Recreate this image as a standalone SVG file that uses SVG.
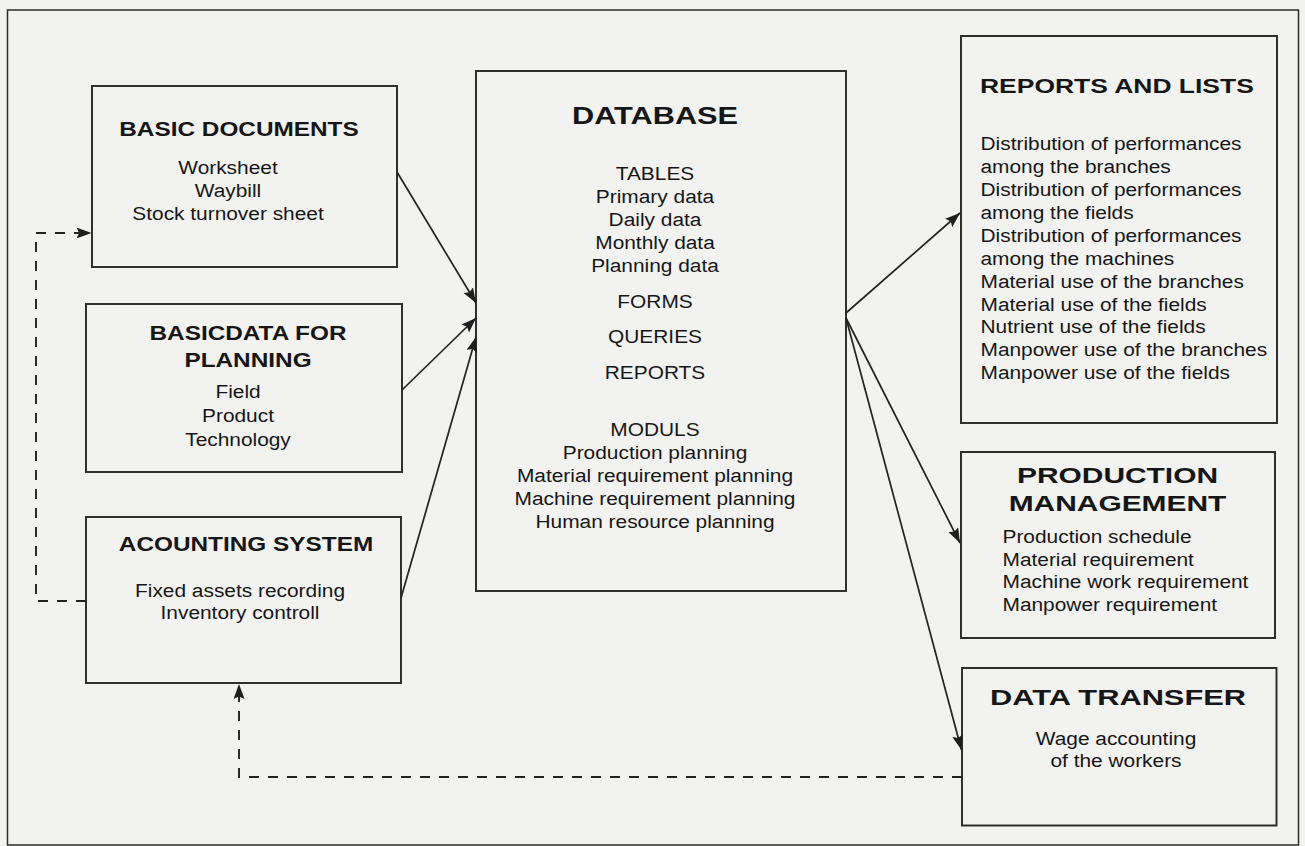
<svg xmlns="http://www.w3.org/2000/svg" width="1305" height="846" viewBox="0 0 1305 846">
  <style>
    .bg { fill: #f2f2f0; }
    .frame { fill: none; stroke: #2b2b2b; stroke-width: 1.5; }
    .box { fill: none; stroke: #262626; stroke-width: 1.9; }
    .t { font-family: "Liberation Sans", Arial, sans-serif; fill: #161616; }
    .h { font-weight: bold; font-size: 21px; }
    .b { font-size: 18px; }
    .c { text-anchor: middle; }
    .s { text-anchor: start; }
    .conn { fill: none; stroke: #222222; stroke-width: 1.7; }
    .dash { stroke-dasharray: 10 9; stroke-width: 1.9; }
  </style>
  <defs>
    <marker id="ah" markerUnits="userSpaceOnUse" markerWidth="16" markerHeight="12" refX="15" refY="5.5" orient="auto">
      <path d="M0,0 L15,5.5 L0,11 L2.5,5.5 z" fill="#1e1e1e"/>
    </marker>
  </defs>
  <rect class="bg" x="0" y="0" width="1305" height="846"/>
  <rect class="frame" x="7.5" y="10" width="1291" height="835"/>

  <g id="basic-documents">
    <rect class="box" x="92" y="86" width="305" height="181"/>
    <g transform="translate(239 0) scale(1.16 1)">
      <text class="t h c" x="0" y="136">BASIC DOCUMENTS</text>
    </g>
    <g transform="translate(228 0) scale(1.16 1)">
      <text class="t b c" x="0" y="174">Worksheet</text>
      <text class="t b c" x="0" y="197">Waybill</text>
      <text class="t b c" x="0" y="220">Stock turnover sheet</text>
    </g>
  </g>

  <g id="basicdata-for-planning">
    <rect class="box" x="86" y="304" width="316" height="168"/>
    <g transform="translate(248 0) scale(1.16 1)">
      <text class="t h c" x="0" y="340">BASICDATA FOR</text>
      <text class="t h c" x="0" y="367">PLANNING</text>
    </g>
    <g transform="translate(238 0) scale(1.16 1)">
      <text class="t b c" x="0" y="398">Field</text>
      <text class="t b c" x="0" y="422">Product</text>
      <text class="t b c" x="0" y="446">Technology</text>
    </g>
  </g>

  <g id="acounting-system">
    <rect class="box" x="86" y="517" width="315" height="166"/>
    <g transform="translate(246 0) scale(1.16 1)">
      <text class="t h c" x="0" y="551">ACOUNTING SYSTEM</text>
    </g>
    <g transform="translate(240 0) scale(1.16 1)">
      <text class="t b c" x="0" y="597">Fixed assets recording</text>
      <text class="t b c" x="0" y="619">Inventory controll</text>
    </g>
  </g>

  <g id="database">
    <rect class="box" x="476" y="71" width="370" height="520"/>
    <g transform="translate(655 0) scale(1.336 1)">
      <text class="t c" style="font-weight:bold;font-size:23px" x="0" y="124">DATABASE</text>
    </g>
    <g transform="translate(655 0) scale(1.16 1)">
      <text class="t b c" x="0" y="180">TABLES</text>
      <text class="t b c" x="0" y="203">Primary data</text>
      <text class="t b c" x="0" y="226">Daily data</text>
      <text class="t b c" x="0" y="249">Monthly data</text>
      <text class="t b c" x="0" y="272">Planning data</text>
      <text class="t b c" x="0" y="308">FORMS</text>
      <text class="t b c" x="0" y="343">QUERIES</text>
      <text class="t b c" x="0" y="379">REPORTS</text>
      <text class="t b c" x="0" y="436">MODULS</text>
      <text class="t b c" x="0" y="459">Production planning</text>
      <text class="t b c" x="0" y="482">Material requirement planning</text>
      <text class="t b c" x="0" y="505">Machine requirement planning</text>
      <text class="t b c" x="0" y="528">Human resource planning</text>
    </g>
  </g>

  <g id="reports-and-lists">
    <rect class="box" x="961" y="36" width="316" height="387"/>
    <g transform="translate(980 0) scale(1.26 1)">
      <text class="t h s" x="0" y="93">REPORTS AND LISTS</text>
    </g>
    <g transform="translate(980.5 0) scale(1.16 1)">
      <text class="t b s" x="0" y="150">Distribution of performances</text>
      <text class="t b s" x="0" y="173">among the branches</text>
      <text class="t b s" x="0" y="196.5">Distribution of performances</text>
      <text class="t b s" x="0" y="219.5">among the fields</text>
      <text class="t b s" x="0" y="242.5">Distribution of performances</text>
      <text class="t b s" x="0" y="265">among the machines</text>
      <text class="t b s" x="0" y="288">Material use of the branches</text>
      <text class="t b s" x="0" y="311">Material use of the fields</text>
      <text class="t b s" x="0" y="333.5">Nutrient use of the fields</text>
      <text class="t b s" x="0" y="356.5">Manpower use of the branches</text>
      <text class="t b s" x="0" y="379">Manpower use of the fields</text>
    </g>
  </g>

  <g id="production-management">
    <rect class="box" x="961" y="452" width="314" height="186"/>
    <g transform="translate(1117.5 0) scale(1.36 1)">
      <text class="t c" style="font-weight:bold;font-size:22px" x="0" y="483">PRODUCTION</text>
      <text class="t c" style="font-weight:bold;font-size:22px" x="0" y="511">MANAGEMENT</text>
    </g>
    <g transform="translate(1002.5 0) scale(1.16 1)">
      <text class="t b s" x="0" y="543">Production schedule</text>
      <text class="t b s" x="0" y="566">Material requirement</text>
      <text class="t b s" x="0" y="588.5">Machine work requirement</text>
      <text class="t b s" x="0" y="611">Manpower requirement</text>
    </g>
  </g>

  <g id="data-transfer">
    <rect class="box" x="962" y="668" width="314.5" height="157.5"/>
    <g transform="translate(1118 0) scale(1.4 1)">
      <text class="t c" style="font-weight:bold;font-size:22px" x="0" y="705">DATA TRANSFER</text>
    </g>
    <g transform="translate(1116 0) scale(1.16 1)">
      <text class="t b c" x="0" y="745">Wage accounting</text>
      <text class="t b c" x="0" y="767">of the workers</text>
    </g>
  </g>

  <g id="connectors">
    <line class="conn" x1="397" y1="172" x2="476" y2="303" marker-end="url(#ah)"/>
    <line class="conn" x1="402" y1="390" x2="476" y2="318" marker-end="url(#ah)"/>
    <line class="conn" x1="401" y1="598" x2="476" y2="337" marker-end="url(#ah)"/>
    <line class="conn" x1="846" y1="313" x2="960" y2="213" marker-end="url(#ah)"/>
    <line class="conn" x1="846" y1="318" x2="960" y2="543" marker-end="url(#ah)"/>
    <line class="conn" x1="846" y1="318" x2="961.5" y2="750" marker-end="url(#ah)"/>
    <polyline class="conn dash" points="962,777 239,777 239,684" marker-end="url(#ah)"/>
    <polyline class="conn dash" points="86,601 36,601 36,233 91.5,233" marker-end="url(#ah)"/>
  </g>
</svg>
